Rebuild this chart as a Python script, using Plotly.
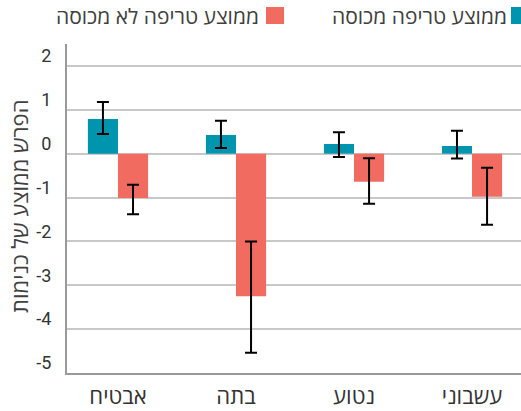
import plotly.graph_objects as go

categories = ["אבטיח", "בתה", "נטוע", "עשבוני"]
covered = [0.79, 0.425, 0.22, 0.175]
covered_err_plus = [0.39, 0.325, 0.27, 0.345]
covered_err_minus = [0.34, 0.295, 0.295, 0.285]
uncovered = [-1.01, -3.25, -0.64, -0.98]
uncovered_err_plus = [0.30, 1.25, 0.535, 0.66]
uncovered_err_minus = [0.37, 1.29, 0.50, 0.64]
series_names = ["ממוצע טריפה מכוסה", "ממוצע טריפה לא מכוסה"]
y_ticks = [2, 1, 0, -1, -2, -3, -4, -5]
y_title = "הפרש ממוצע של כנימות"

TEAL = "#0095AF"
SALMON = "#F26B61"
HEB = "Open Sans, Liberation Sans, DejaVu Sans, sans-serif"

W, H = 521, 411
L, R, T, B = 67, 0, 44, 38
PW, PH = W - L - R, H - T - B


def px_x(x):
    return (x - L) / PW


def px_y(y):
    return (H - B - y) / PH


fig = go.Figure()
fig.add_bar(x=categories, y=covered, name=series_names[0], marker_color=TEAL,
            marker_line_width=0, showlegend=False,
            error_y=dict(type="data", symmetric=False, array=covered_err_plus,
                         arrayminus=covered_err_minus, color="black", thickness=2, width=6))
fig.add_bar(x=categories, y=uncovered, name=series_names[1], marker_color=SALMON,
            marker_line_width=0, showlegend=False,
            error_y=dict(type="data", symmetric=False, array=uncovered_err_plus,
                         arrayminus=uncovered_err_minus, color="black", thickness=2, width=6))

# manual right-to-left legend
legend_items = [(series_names[0], TEAL, 511, 528, 2), (series_names[1], SALMON, 266, 284, 5)]
for name, col, x0, x1, gap in legend_items:
    fig.add_shape(type="rect", xref="paper", yref="paper",
                  x0=px_x(x0), x1=px_x(x1), y0=px_y(24), y1=px_y(7),
                  fillcolor=col, line_width=0)
    fig.add_annotation(text=name, xref="paper", yref="paper",
                       x=px_x(x0 - gap), y=px_y(15.5),
                       xanchor="right", yanchor="middle", showarrow=False,
                       font=dict(family=HEB, size=21, color="#404040"))

fig.add_annotation(text=y_title, xref="paper", yref="paper", textangle=-90,
                   x=px_x(19), y=px_y(207), xanchor="center", yanchor="middle",
                   showarrow=False, font=dict(family=HEB, size=22, color="#404040"))

fig.update_layout(
    width=W, height=H,
    margin=dict(l=L, r=R, t=T, b=B, autoexpand=False),
    paper_bgcolor="white", plot_bgcolor="white",
    barmode="group", bargap=0.49, bargroupgap=0,
    xaxis=dict(range=[-0.432, 3.415], showgrid=False, showline=True, automargin=False,
               linecolor="#9a9a9a", linewidth=2, ticks="",
               tickfont=dict(family=HEB, size=22, color="#333333"),
               ticklabelstandoff=3),
    yaxis=dict(range=[-5, 2.5], tickvals=y_ticks, ticktext=[str(v) for v in y_ticks],
               automargin=False,
               showgrid=True, gridcolor="#c8c8c8", gridwidth=2,
               zeroline=True, zerolinecolor="#c8c8c8", zerolinewidth=2,
               showline=True, linecolor="#9a9a9a", linewidth=2, ticks="",
               tickfont=dict(family="Roboto, sans-serif", size=18, color="#333333"),
               ticklabelstandoff=10, ticklabelshift=-10),
)

fig.write_html("out.html", config={"displayModeBar": False},
               post_script="document.body.style.margin='0';")
